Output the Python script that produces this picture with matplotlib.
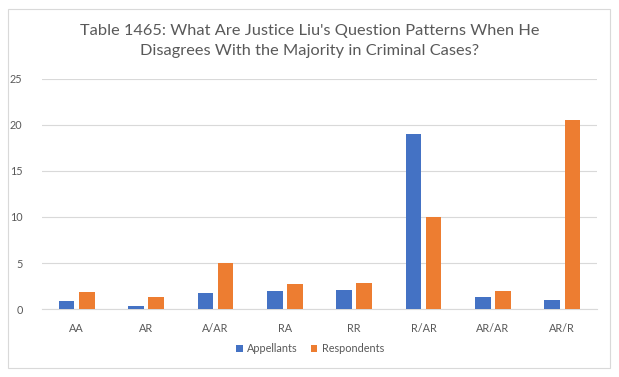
import matplotlib
matplotlib.use("Agg")
import matplotlib.pyplot as plt
from matplotlib.patches import Rectangle
import numpy as np

categories = ["AA", "AR", "A/AR", "RA", "RR", "R/AR", "AR/AR", "AR/R"]
appellants = [0.9, 0.35, 1.7, 2.0, 2.1, 19.0, 1.3, 1.0]
respondents = [1.8, 1.35, 5.0, 2.7, 2.8, 10.0, 2.0, 20.5]
yticks = [0, 5, 10, 15, 20, 25]
title = "Table 1465: What Are Justice Liu's Question Patterns When He\nDisagrees With the Majority in Criminal Cases?"

plt.rcParams['font.family'] = ['Lato', 'DejaVu Sans']
W, H = 619, 377
fig = plt.figure(figsize=(W / 100, H / 100), dpi=100)
fig.patch.set_facecolor("white")

# outer border
fig.add_artist(Rectangle((8 / W, 1 - 368 / H), (610 - 8) / W, (368 - 9) / H,
                         transform=fig.transFigure, fill=False, edgecolor="#D9D9D9", lw=0.8))

ax = fig.add_axes([42 / W, 1 - 309 / H, (597 - 42) / W, (309 - 79) / H])
x = np.arange(len(categories))
bw = 0.224
gap = 0.066
ax.bar(x - (bw + gap) / 2, appellants, bw, color="#4472C4", label="Appellants", zorder=3)
ax.bar(x + (bw + gap) / 2, respondents, bw, color="#ED7D31", label="Respondents", zorder=3)

ax.set_xlim(-0.5, len(categories) - 0.5)
ax.set_ylim(0, 25)
ax.set_yticks(yticks)
ax.set_xticks(x)
ax.set_xticklabels(categories)
ax.tick_params(axis="both", length=0, labelsize=7.8, labelcolor="#595959")
ax.tick_params(axis="x", pad=10)
ax.tick_params(axis="y", pad=14)
ax.grid(axis="y", color="#D9D9D9", lw=0.8, zorder=0)
for s in ["top", "right", "left"]:
    ax.spines[s].set_visible(False)
ax.spines["bottom"].set_color("#D9D9D9")
ax.spines["bottom"].set_linewidth(0.8)

fig.text(0.5, 1 - 41 / H, title, ha="center", va="center", fontsize=11.8,
         color="#595959", linespacing=1.5)

leg = fig.legend(loc="center", bbox_to_anchor=(310 / W, 1 - 349 / H), ncol=2, frameon=False,
                 fontsize=7.8, handlelength=0.6, handleheight=0.6, handletextpad=0.4,
                 columnspacing=1.2, labelcolor="#595959")

fig.savefig("out.png", dpi=100, facecolor="white")
